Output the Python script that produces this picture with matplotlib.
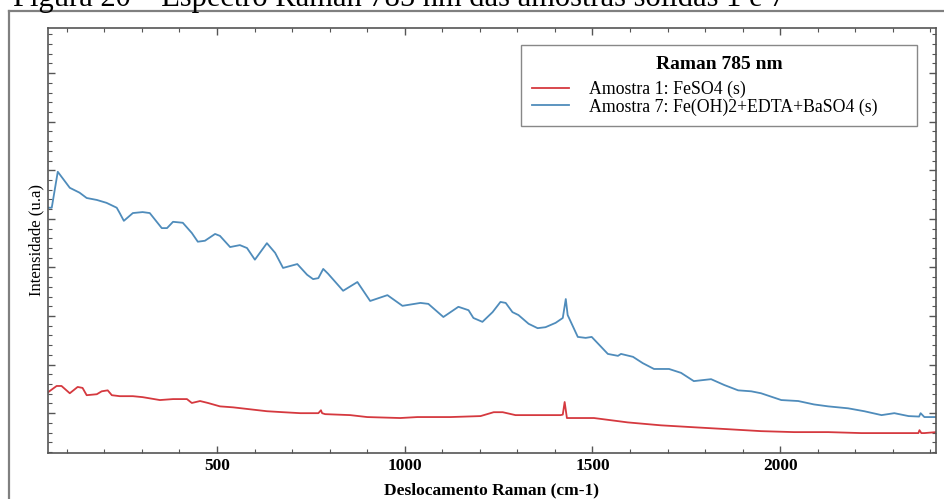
import numpy as np
import matplotlib
matplotlib.use("Agg")
import matplotlib.pyplot as plt
from matplotlib.ticker import MultipleLocator, NullFormatter
from matplotlib.lines import Line2D

plt.rcParams['font.family'] = ['Liberation Serif', 'DejaVu Serif']

# Amostra 7: Fe(OH)2+EDTA+BaSO4 (s)  -- deslocamento (cm-1), intensidade (u.a.)
x_am7 = [50, 60, 76, 108, 134, 153, 180, 206, 233, 241, 252, 276, 302, 321, 353, 367,
         383, 409, 433, 449, 468, 495, 508, 535, 561, 580, 601, 633, 655, 676, 714, 740,
         756, 770, 783, 796, 836, 874, 908, 954, 994, 1042, 1063, 1103, 1143, 1170, 1183,
         1207, 1234, 1255, 1269, 1287, 1303, 1330, 1354, 1375, 1402, 1421, 1429, 1434,
         1461, 1482, 1498, 1514, 1541, 1568, 1576, 1608, 1634, 1664, 1704, 1736, 1770,
         1816, 1851, 1888, 1923, 1949, 2003, 2048, 2090, 2128, 2181, 2224, 2270, 2304,
         2342, 2370, 2374, 2384, 2416]
y_am7 = [5.23, 5.23, 5.97, 5.64, 5.54, 5.43, 5.39, 5.33, 5.23, 5.12, 4.96, 5.12, 5.14,
         5.12, 4.81, 4.81, 4.94, 4.92, 4.71, 4.53, 4.55, 4.69, 4.65, 4.42, 4.46, 4.40,
         4.16, 4.50, 4.30, 3.99, 4.07, 3.85, 3.76, 3.78, 3.97, 3.87, 3.52, 3.70, 3.31,
         3.43, 3.21, 3.27, 3.25, 2.98, 3.19, 3.12, 2.96, 2.88, 3.08, 3.29, 3.27, 3.08,
         3.02, 2.84, 2.75, 2.77, 2.86, 2.96, 3.35, 3.02, 2.57, 2.55, 2.57, 2.44, 2.22,
         2.18, 2.22, 2.16, 2.03, 1.91, 1.91, 1.83, 1.66, 1.70, 1.58, 1.47, 1.45, 1.41,
         1.27, 1.25, 1.18, 1.14, 1.10, 1.04, 0.96, 1.00, 0.94, 0.93, 1.00, 0.92, 0.92]

# Amostra 1: FeSO4 (s)
x_am1 = [50, 73, 86, 108, 129, 142, 153, 180, 193, 209, 220, 241, 276, 302, 348, 383,
         420, 433, 455, 476, 508, 543, 588, 633, 676, 722, 770, 777, 780, 788, 855, 900,
         988, 1034, 1122, 1202, 1237, 1261, 1295, 1415, 1421, 1426, 1432, 1504, 1594,
         1682, 1770, 1861, 1949, 2037, 2128, 2216, 2304, 2368, 2371, 2376, 2384, 2416]
y_am1 = [1.43, 1.56, 1.56, 1.41, 1.54, 1.52, 1.37, 1.39, 1.45, 1.47, 1.37, 1.35, 1.35,
         1.33, 1.27, 1.29, 1.29, 1.21, 1.25, 1.21, 1.14, 1.12, 1.08, 1.04, 1.02, 1.00,
         1.00, 1.06, 1.00, 0.98, 0.96, 0.92, 0.90, 0.92, 0.92, 0.94, 1.02, 1.02, 0.96,
         0.96, 0.97, 1.23, 0.90, 0.90, 0.81, 0.75, 0.71, 0.67, 0.63, 0.61, 0.61, 0.59,
         0.59, 0.59, 0.65, 0.59, 0.59, 0.61]

fig = plt.figure(figsize=(9.45, 4.99), dpi=100)
ax = fig.add_axes([48 / 945, 46 / 499, 888 / 945, 425 / 499])

ax.plot(x_am1, y_am1, color='#d5393f', linewidth=1.3, label='Amostra 1: FeSO4 (s)')
ax.plot(x_am7, y_am7, color='#4f8cbb', linewidth=1.3,
        label='Amostra 7: Fe(OH)2+EDTA+BaSO4 (s)')

ax.set_xlim(50, 2415)
ax.set_ylim(0.18, 8.93)
ax.xaxis.set_major_locator(MultipleLocator(500))
ax.xaxis.set_minor_locator(MultipleLocator(100))
ax.yaxis.set_major_locator(MultipleLocator(1))
ax.yaxis.set_minor_locator(MultipleLocator(0.2))
ax.yaxis.set_major_formatter(NullFormatter())
ax.tick_params(which='both', direction='in', top=True, right=True, color='#555555')
ax.tick_params(which='major', length=5, width=1)
ax.tick_params(which='minor', length=3, width=0.8)
for lab in ax.get_xticklabels():
    lab.set_fontweight('bold')
    lab.set_fontsize(12.5)
for s in ax.spines.values():
    s.set_color('#555555')
    s.set_linewidth(1.2)

ax.set_xlabel('Deslocamento Raman (cm-1)', fontsize=12.5, fontweight='bold', labelpad=6)
ax.set_ylabel('Intensidade (u.a)', fontsize=12, labelpad=-1)

leg = ax.legend(loc='upper left', bbox_to_anchor=(521 / 945, 376 / 499, 396 / 945, 78 / 499),
                bbox_transform=fig.transFigure, mode='expand', borderaxespad=0,
                title='Raman 785 nm', fontsize=12.8, title_fontproperties={'size': 14, 'weight': 'bold'},
                fancybox=False, framealpha=1, edgecolor='#888888', handlelength=2.1,
                handletextpad=1.15, borderpad=0.6, labelspacing=0.0)
leg.get_frame().set_linewidth(1.0)
leg._legend_box.sep = 6  # a bit more room under the legend title

# caption (cut at top of page) and page frame
fig.text(13 / 945, 1 - 6 / 499, 'Figura 20 – Espectro Raman 785 nm das amostras sólidas 1 e 7',
         fontsize=22, va='baseline', ha='left')
fig.add_artist(Line2D([9 / 945, 1], [1 - 11 / 499, 1 - 11 / 499], color='#808080', linewidth=1.6))
fig.add_artist(Line2D([9 / 945, 9 / 945], [0, 1 - 11 / 499], color='#808080', linewidth=1.6))

fig.savefig('out.png', dpi=100)
